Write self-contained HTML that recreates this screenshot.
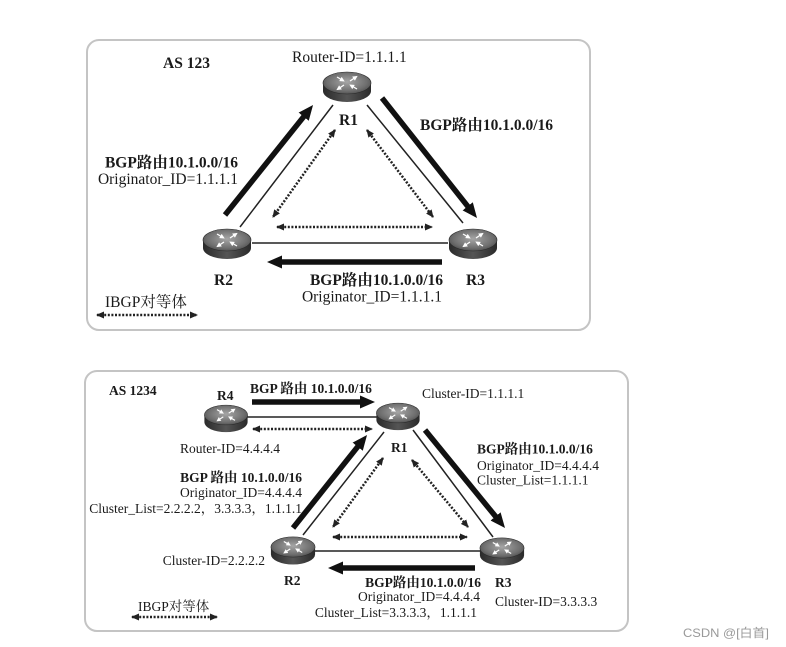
<!DOCTYPE html>
<html><head><meta charset="utf-8">
<style>
html,body{margin:0;padding:0;background:#fff;}
svg{display:block;}
text{font-family:"Liberation Serif","Noto Serif CJK SC",serif;fill:#1a1a1a;font-size:15.5px;}
.b{font-weight:bold;}
.s{font-size:13.5px;}
</style></head><body>
<svg width="786" height="647" viewBox="0 0 786 647" xmlns="http://www.w3.org/2000/svg">
<defs>
<marker id="ah" markerUnits="userSpaceOnUse" markerWidth="15" markerHeight="13" refX="5" refY="6.5" orient="auto"><path d="M0,0 L15,6.5 L0,13 z" fill="#111"/></marker>
<marker id="dh" markerUnits="userSpaceOnUse" markerWidth="8" markerHeight="7" refX="7" refY="3.5" orient="auto-start-reverse"><path d="M0,0 L8,3.5 L0,7 z" fill="#222"/></marker>
<marker id="wh" markerUnits="userSpaceOnUse" markerWidth="5" markerHeight="5" refX="3" refY="2.5" orient="auto"><path d="M0,0 L5,2.5 L0,5 z" fill="#fff"/></marker>
<radialGradient id="tg" cx="50%" cy="45%" r="60%"><stop offset="0" stop-color="#a6a6a6"/><stop offset="0.7" stop-color="#6e6e6e"/><stop offset="1" stop-color="#4a4a4a"/></radialGradient>
<linearGradient id="sg" x1="0" y1="0" x2="1" y2="0"><stop offset="0" stop-color="#2a2a2a"/><stop offset="0.5" stop-color="#555"/><stop offset="1" stop-color="#2a2a2a"/></linearGradient>
<g id="rt">
 <path d="M-24,0 L-24,8 A24,11 0 0 0 24,8 L24,0 Z" fill="url(#sg)"/>
 <ellipse rx="24" ry="11" fill="url(#tg)" stroke="#2a2a2a" stroke-width="0.6"/>
 <g stroke="#fff" stroke-width="1.3" fill="none">
  <line x1="-10" y1="-6" x2="-4" y2="-2.5" marker-end="url(#wh)"/>
  <line x1="3" y1="-2" x2="9" y2="-6" marker-end="url(#wh)"/>
  <line x1="-3" y1="2" x2="-9" y2="6" marker-end="url(#wh)"/>
  <line x1="10" y1="6" x2="4" y2="2.5" marker-end="url(#wh)"/>
 </g>
</g>
</defs>

<!-- Panels -->
<rect x="87" y="40" width="503" height="290" rx="12" fill="#fff" stroke="#c4c4c4" stroke-width="2"/>
<rect x="85" y="371" width="543" height="260" rx="12" fill="#fff" stroke="#c4c4c4" stroke-width="2"/>

<!-- TOP PANEL lines -->
<g stroke="#222" stroke-width="1.5">
 <line x1="240" y1="227" x2="333" y2="105"/>
 <line x1="367" y1="105" x2="463" y2="223"/>
 <line x1="252" y1="243" x2="448" y2="243"/>
</g>
<g stroke="#111" stroke-width="5.5" marker-end="url(#ah)">
 <line x1="225" y1="215" x2="306.8" y2="112.8"/>
 <line x1="382" y1="98" x2="470.8" y2="210.2"/>
 <line x1="442" y1="262" x2="277" y2="262"/>
</g>
<g stroke="#222" stroke-width="2.5" stroke-dasharray="2 1.6" marker-start="url(#dh)" marker-end="url(#dh)">
 <line x1="335" y1="130" x2="273" y2="217"/>
 <line x1="367" y1="130" x2="433" y2="217"/>
 <line x1="277" y1="227" x2="432" y2="227"/>
 <line x1="97" y1="315" x2="197" y2="315"/>
</g>
<use href="#rt" transform="translate(347,83)"/>
<use href="#rt" transform="translate(227,240)"/>
<use href="#rt" transform="translate(473,240)"/>

<text x="163" y="68" class="b">AS 123</text>
<text x="292" y="62">Router-ID=1.1.1.1</text>
<text x="339" y="125" class="b">R1</text>
<text x="214" y="285" class="b">R2</text>
<text x="466" y="285" class="b">R3</text>
<text x="420" y="130" class="b">BGP路由10.1.0.0/16</text>
<text x="238" y="167.5" class="b" text-anchor="end">BGP路由10.1.0.0/16</text>
<text x="238" y="184" text-anchor="end">Originator_ID=1.1.1.1</text>
<text x="443" y="285" class="b" text-anchor="end">BGP路由10.1.0.0/16</text>
<text x="442" y="301.5" text-anchor="end">Originator_ID=1.1.1.1</text>
<text x="105" y="307">IBGP对等体</text>

<!-- BOTTOM PANEL lines -->
<g stroke="#222" stroke-width="1.5">
 <line x1="247" y1="417" x2="378" y2="417"/>
 <line x1="303" y1="535" x2="384" y2="432"/>
 <line x1="413" y1="430" x2="493" y2="537"/>
 <line x1="315" y1="551" x2="480" y2="551"/>
</g>
<g stroke="#111" stroke-width="5.5" marker-end="url(#ah)">
 <line x1="252" y1="402" x2="365" y2="402"/>
 <line x1="293" y1="528" x2="360.8" y2="442.8"/>
 <line x1="425" y1="430" x2="498.7" y2="520.3"/>
 <line x1="475" y1="568" x2="338" y2="568"/>
</g>
<g stroke="#222" stroke-width="2.5" stroke-dasharray="2 1.6" marker-start="url(#dh)" marker-end="url(#dh)">
 <line x1="253" y1="429" x2="372" y2="429"/>
 <line x1="383" y1="458" x2="333" y2="527"/>
 <line x1="412" y1="460" x2="468" y2="527"/>
 <line x1="333" y1="537" x2="467" y2="537"/>
 <line x1="132" y1="617" x2="217" y2="617"/>
</g>
<use href="#rt" transform="translate(226,415) scale(0.9)"/>
<use href="#rt" transform="translate(398,413) scale(0.9)"/>
<use href="#rt" transform="translate(293,547) scale(0.92)"/>
<use href="#rt" transform="translate(502,548) scale(0.92)"/>

<text x="109" y="395" class="b s">AS 1234</text>
<text x="217" y="400" class="b s">R4</text>
<text x="250" y="393" class="b s">BGP 路由 10.1.0.0/16</text>
<text x="422" y="398" class="s">Cluster-ID=1.1.1.1</text>
<text x="180" y="453" class="s">Router-ID=4.4.4.4</text>
<text x="391" y="452" class="b s">R1</text>
<text x="477" y="453.5" class="b s">BGP路由10.1.0.0/16</text>
<text x="477" y="470" class="s">Originator_ID=4.4.4.4</text>
<text x="477" y="484.5" class="s">Cluster_List=1.1.1.1</text>
<text x="302" y="482" class="b s" text-anchor="end">BGP 路由 10.1.0.0/16</text>
<text x="302" y="497" class="s" text-anchor="end">Originator_ID=4.4.4.4</text>
<text x="302" y="513" class="s" text-anchor="end">Cluster_List=2.2.2.2，3.3.3.3，1.1.1.1</text>
<text x="265" y="565" class="s" text-anchor="end">Cluster-ID=2.2.2.2</text>
<text x="284" y="585" class="b s">R2</text>
<text x="481" y="587" class="b s" text-anchor="end">BGP路由10.1.0.0/16</text>
<text x="480" y="601" class="s" text-anchor="end">Originator_ID=4.4.4.4</text>
<text x="477" y="617" class="s" text-anchor="end">Cluster_List=3.3.3.3，1.1.1.1</text>
<text x="495" y="587" class="b s">R3</text>
<text x="495" y="606" class="s">Cluster-ID=3.3.3.3</text>
<text x="138" y="611" class="s">IBGP对等体</text>

<text x="683" y="637" style="font-family:'Liberation Sans','Noto Sans CJK SC',sans-serif;font-size:12px;fill:#999" textLength="86" lengthAdjust="spacingAndGlyphs">CSDN @[白首]</text>
</svg>
</body></html>
